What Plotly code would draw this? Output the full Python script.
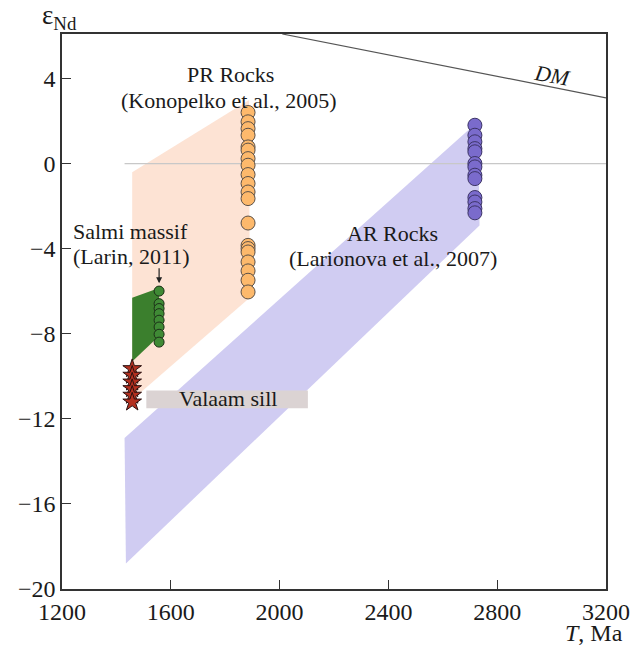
import plotly.graph_objects as go

# Nd isotope evolution: epsilon-Nd versus age T (Ma)

# Sample ages (Ma)
pr_age = 1884
ar_age = 2718
salmi_age = 1557
valaam_age = 1458

# epsilon-Nd values of individual samples
pr_eps = [2.41, 1.97, 1.65, 1.34, 0.79, 0.64, 0.24, -0.07, -0.51, -0.93, -1.33, -1.64,
          -2.79, -3.84, -3.99, -4.15, -4.62, -5.04, -5.48, -6.03]
ar_eps = [1.81, 1.34, 1.03, 0.71, 0.56, 0.01, -0.15, -0.54, -0.70, -1.59, -1.80, -2.11, -2.31]
salmi_eps = [-5.99, -6.58, -6.81, -7.05, -7.36, -7.68, -8.02, -8.39]
valaam_eps = [-9.64, -9.95, -10.27, -10.58, -10.89, -11.21]

# Evolution fields (age, epsilon-Nd corners)
pr_field_t = [1458, 1888, 1890, 1458]
pr_field_e = [-0.4, 3.0, -6.3, -11.1]
ar_field_t = [1430, 2730, 2735, 1435]
ar_field_e = [-12.9, 2.0, -2.9, -18.8]
salmi_field_t = [1458, 1557, 1557, 1458]
salmi_field_e = [-6.3, -5.85, -8.1, -9.3]

# Depleted mantle line
dm_t = [2010, 3200]
dm_e = [6.1, 3.1]

# Valaam sill age range box
sill_t = [1510, 2104]
sill_e = [-11.5, -10.66]

x_ticks = [1200, 1600, 2000, 2400, 2800, 3200]
y_ticks = [4, 0, -4, -8, -12, -16, -20]

SERIF = "Times New Roman, Liberation Serif, Tinos, DejaVu Serif, serif"

fig = go.Figure()


def field(t, e, color):
    fig.add_trace(go.Scatter(
        x=t + [t[0]], y=e + [e[0]], fill="toself", fillcolor=color,
        mode="lines", line=dict(width=0, color=color), hoverinfo="skip",
        showlegend=False))


field(pr_field_t, pr_field_e, "#fde3d4")
field(ar_field_t, ar_field_e, "#d0ccf2")
field(salmi_field_t, salmi_field_e, "#3b7f2d")

# zero reference line
fig.add_trace(go.Scatter(x=[1430, 3200], y=[0, 0], mode="lines",
                         line=dict(color="#c8c8c8", width=1.2),
                         showlegend=False, hoverinfo="skip"))

# DM line
fig.add_trace(go.Scatter(x=dm_t, y=dm_e, mode="lines",
                         line=dict(color="#555555", width=1.2),
                         showlegend=False, hoverinfo="skip"))

# Valaam sill box
fig.add_shape(type="rect", x0=sill_t[0], x1=sill_t[1], y0=sill_e[0], y1=sill_e[1],
              fillcolor="#dbd3d3", line=dict(width=0), layer="above")

fig.add_trace(go.Scatter(
    x=[pr_age] * len(pr_eps), y=pr_eps, mode="markers",
    marker=dict(size=14, color="#fdb96c", line=dict(color="#5a5048", width=1)),
    showlegend=False))
fig.add_trace(go.Scatter(
    x=[ar_age] * len(ar_eps), y=ar_eps, mode="markers",
    marker=dict(size=14, color="#7a6bcc", line=dict(color="#3c3466", width=1)),
    showlegend=False))
fig.add_trace(go.Scatter(
    x=[salmi_age] * len(salmi_eps), y=salmi_eps, mode="markers",
    marker=dict(size=10, color="#3f8a35", line=dict(color="#1c2f18", width=1)),
    showlegend=False))
fig.add_trace(go.Scatter(
    x=[valaam_age] * len(valaam_eps), y=valaam_eps, mode="markers",
    marker=dict(symbol="star", size=14, color="#b3301f", line=dict(color="#2a1010", width=1)),
    showlegend=False))

txt = dict(family=SERIF, size=22, color="#1a1a1a")
anns = [
    dict(x=1820, y=4.21, text="PR Rocks"),
    dict(x=1813, y=2.99, text="(Konopelko et al., 2005)"),
    dict(x=1452, y=-3.18, text="Salmi massif"),
    dict(x=1452, y=-4.35, text="(Larin, 2011)"),
    dict(x=2416, y=-3.27, text="AR Rocks"),
    dict(x=2416, y=-4.45, text="(Larionova et al., 2007)"),
    dict(x=1809, y=-11.05, text="Valaam sill"),
    dict(x=3005, y=4.15, text="<i>DM</i>", textangle=10),
]
for a in anns:
    fig.add_annotation(xref="x", yref="y", showarrow=False, font=txt, **a)

# arrow pointing to the Salmi massif samples
fig.add_annotation(x=salmi_age, y=-5.62, ax=salmi_age, ay=-4.85, xref="x", yref="y",
                   axref="x", ayref="y", showarrow=True, arrowhead=2, arrowsize=1,
                   arrowwidth=1.2, arrowcolor="#222222", text="")

fig.add_annotation(xref="paper", yref="paper", x=-0.04, y=1.03, xanchor="left",
                   yanchor="middle", showarrow=False,
                   text="ε<sub>Nd</sub>", font=dict(family=SERIF, size=27, color="#1a1a1a"))
fig.add_annotation(xref="paper", yref="paper", x=1.035, y=-0.08, xanchor="right",
                   yanchor="middle", showarrow=False,
                   text="<i>T</i>, Ma", font=dict(family=SERIF, size=24, color="#1a1a1a"))

axis_common = dict(showgrid=False, zeroline=False, showline=True, linecolor="#333333",
                   linewidth=1.5, mirror=True, ticks="inside", ticklen=9,
                   tickcolor="#333333", tickwidth=1.2,
                   tickfont=dict(family=SERIF, size=24, color="#1a1a1a"))

fig.update_xaxes(range=[1200, 3200], tickvals=x_ticks, **axis_common)
fig.update_yaxes(range=[-20, 6.1], tickvals=y_ticks, **axis_common)

fig.update_layout(width=641, height=647, plot_bgcolor="white", paper_bgcolor="white",
                  margin=dict(l=62, r=35, t=34, b=58), showlegend=False)

fig.write_html("out.html")
